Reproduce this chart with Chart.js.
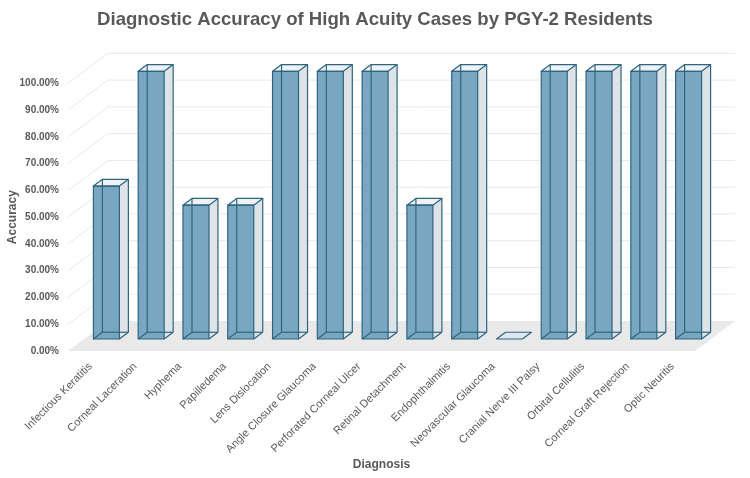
<!DOCTYPE html>
<html>
<head>
<meta charset="utf-8">
<title>Diagnostic Accuracy</title>
<script src="https://cdn.jsdelivr.net/npm/chart.js@4"></script>
<style>
  html, body { margin: 0; padding: 0; background: #fff; }
  #wrap { width: 750px; height: 478px; }
</style>
</head>
<body>
<div id="wrap"><canvas id="accuracyChart"></canvas></div>
<script>
const diagnoses = [
  'Infectious Keratitis', 'Corneal Laceration', 'Hyphema', 'Papilledema',
  'Lens Dislocation', 'Angle Closure Glaucoma', 'Perforated Corneal Ulcer',
  'Retinal Detachment', 'Endophthalmitis', 'Neovascular Glaucoma',
  'Cranial Nerve III Palsy', 'Orbital Cellulitis', 'Corneal Graft Rejection',
  'Optic Neuritis'
];
const accuracy = [0.5714, 1, 0.5, 0.5, 1, 1, 1, 0.5, 1, 0, 1, 1, 1, 1];
const yTicks = [0, 0.1, 0.2, 0.3, 0.4, 0.5, 0.6, 0.7, 0.8, 0.9, 1];

// depth of the 3D floor / back wall
const DEPTH_X = 40;
const DEPTH_Y = -30;
const BAR_FRONT = 0.4;
const BAR_BACK = 0.625;

const edgeColor = '#2F6580';
const textGray = '#595959';

// floor and back wall grid lines
const wallPlugin = {
  id: 'wall3d',
  beforeDatasetsDraw(chart) {
    const { ctx, chartArea, scales } = chart;
    const y0 = scales.y.getPixelForValue(0);
    ctx.save();
    ctx.strokeStyle = '#E8E8E8';
    ctx.lineWidth = 1;
    yTicks.forEach(v => {
      if (v === 0) return;
      const y = scales.y.getPixelForValue(v);
      ctx.beginPath();
      ctx.moveTo(chartArea.left, y);
      ctx.lineTo(chartArea.left + DEPTH_X, y + DEPTH_Y);
      ctx.lineTo(chartArea.right + DEPTH_X, y + DEPTH_Y);
      ctx.stroke();
    });
    ctx.fillStyle = '#E9E9E9';
    ctx.beginPath();
    ctx.moveTo(chartArea.left, y0);
    ctx.lineTo(chartArea.right, y0);
    ctx.lineTo(chartArea.right + DEPTH_X, y0 + DEPTH_Y);
    ctx.lineTo(chartArea.left + DEPTH_X, y0 + DEPTH_Y);
    ctx.closePath();
    ctx.fill();
    ctx.restore();
  }
};

function poly(ctx, pts, fill) {
  ctx.beginPath();
  ctx.moveTo(pts[0][0], pts[0][1]);
  for (let i = 1; i < pts.length; i++) ctx.lineTo(pts[i][0], pts[i][1]);
  ctx.closePath();
  if (fill) {
    ctx.fillStyle = fill;
    ctx.fill();
  }
}

function line(ctx, a, b) {
  ctx.beginPath();
  ctx.moveTo(a[0], a[1]);
  ctx.lineTo(b[0], b[1]);
  ctx.stroke();
}

// glass-like boxes drawn from the bar elements
const boxPlugin = {
  id: 'box3d',
  afterDatasetsDraw(chart) {
    const { ctx } = chart;
    const meta = chart.getDatasetMeta(0);
    ctx.save();
    ctx.lineWidth = 1.2;
    ctx.strokeStyle = edgeColor;
    ctx.lineJoin = 'round';
    meta.data.forEach(bar => {
      const p = bar.getProps(['x', 'y', 'base', 'width'], true);
      const fx = BAR_FRONT * DEPTH_X, fy = BAR_FRONT * DEPTH_Y;
      const bx = BAR_BACK * DEPTH_X, by = BAR_BACK * DEPTH_Y;
      const l = p.x - p.width / 2, r = p.x + p.width / 2;
      // front corners
      const fbl = [l + fx, p.base + fy], fbr = [r + fx, p.base + fy];
      const ftl = [l + fx, p.y + fy], ftr = [r + fx, p.y + fy];
      // back corners
      const bbl = [l + bx, p.base + by], bbr = [r + bx, p.base + by];
      const btl = [l + bx, p.y + by], btr = [r + bx, p.y + by];

      if (Math.abs(p.base - p.y) < 0.5) {
        poly(ctx, [fbl, fbr, bbr, bbl], '#DCE6EC');
        ctx.stroke();
        return;
      }
      poly(ctx, [fbr, bbr, btr, ftr], '#DDE3E6');
      poly(ctx, [ftl, ftr, btr, btl], '#EEF2F4');
      poly(ctx, [fbl, fbr, ftr, ftl], '#79A6C0');
      // hidden edges, seen through the glass
      line(ctx, bbl, btl);
      line(ctx, bbl, bbr);
      line(ctx, fbl, bbl);
      // visible edges
      poly(ctx, [fbl, fbr, ftr, ftl]);
      ctx.stroke();
      poly(ctx, [ftl, ftr, btr, btl]);
      ctx.stroke();
      line(ctx, fbr, bbr);
      line(ctx, bbr, btr);
    });
    ctx.restore();
  }
};

const ctx = document.getElementById('accuracyChart').getContext('2d');
new Chart(ctx, {
  type: 'bar',
  data: {
    labels: diagnoses,
    datasets: [{
      label: 'Accuracy',
      data: accuracy,
      backgroundColor: 'rgba(0,0,0,0)',
      borderWidth: 0,
      categoryPercentage: 1,
      barPercentage: 0.58
    }]
  },
  options: {
    responsive: true,
    maintainAspectRatio: false,
    animation: false,
    layout: { padding: 0 },
    plugins: {
      legend: { display: false },
      tooltip: { enabled: false },
      title: {
        display: true,
        text: 'Diagnostic Accuracy of High Acuity Cases by PGY-2 Residents',
        color: textGray,
        font: { family: 'Liberation Sans', size: 18.6, weight: 'bold' },
        padding: { top: 9, bottom: 52 }
      }
    },
    scales: {
      x: {
        grid: { display: false, drawTicks: false },
        border: { display: false },
        ticks: {
          autoSkip: false,
          minRotation: 45,
          maxRotation: 45,
          padding: 9,
          color: textGray,
          font: { family: 'Liberation Sans', size: 11 }
        },
        title: {
          display: true,
          text: 'Diagnosis',
          color: textGray,
          font: { family: 'Liberation Sans', size: 12, weight: 'bold' },
          padding: { top: 4, bottom: 6 }
        },
        afterFit(scale) { scale.height = 127; }
      },
      y: {
        min: 0,
        max: 1,
        grid: { display: false, drawTicks: false },
        border: { display: false },
        afterBuildTicks(scale) {
          scale.ticks = yTicks.map(v => ({ value: v }));
        },
        ticks: {
          padding: 9,
          color: textGray,
          font: { family: 'Liberation Sans', size: 10, weight: 'bold' },
          callback: v => (v * 100).toFixed(2) + '%'
        },
        title: {
          display: true,
          text: 'Accuracy',
          color: textGray,
          font: { family: 'Liberation Sans', size: 12, weight: 'bold' },
          padding: { top: 5, bottom: 5 }
        },
        afterFit(scale) { scale.width = 68; }
      },
      // empty right axis, keeps room for the depth of the floor
      yRight: {
        position: 'right',
        min: 0,
        max: 1,
        grid: { display: false, drawTicks: false },
        border: { display: false },
        ticks: { display: false },
        afterFit(scale) { scale.width = 55; }
      }
    }
  },
  plugins: [wallPlugin, boxPlugin]
});
</script>
</body>
</html>
